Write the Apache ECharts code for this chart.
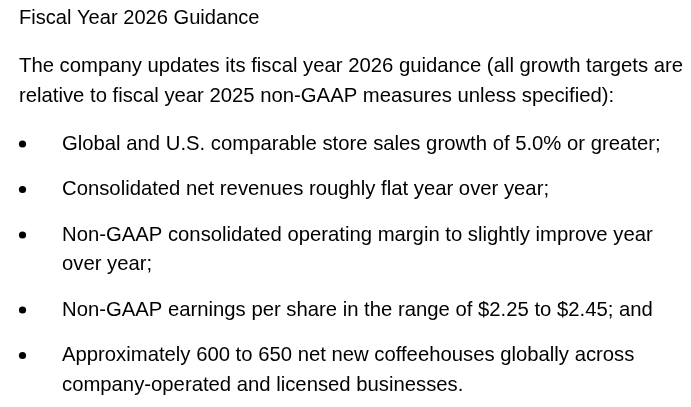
<!DOCTYPE html>
<html>
<head>
<meta charset="utf-8">
<title>Fiscal Year 2026 Guidance</title>
<script src="https://cdn.jsdelivr.net/npm/echarts@6.0.0/dist/echarts.min.js"></script>
<style>
  html, body { margin: 0; padding: 0; background: #fff; }
  #main { width: 691px; height: 407px; }
</style>
</head>
<body>
<div id="main"></div>
<script>
// text content, line by line as wrapped in the source
var titleText = 'Fiscal Year 2026 Guidance';
var introLines = [
  'The company updates its fiscal year 2026 guidance (all growth targets are',
  'relative to fiscal year 2025 non-GAAP measures unless specified):'
];
var bulletItems = [
  ['Global and U.S. comparable store sales growth of 5.0% or greater;'],
  ['Consolidated net revenues roughly flat year over year;'],
  ['Non-GAAP consolidated operating margin to slightly improve year', 'over year;'],
  ['Non-GAAP earnings per share in the range of $2.25 to $2.45; and'],
  ['Approximately 600 to 650 net new coffeehouses globally across', 'company-operated and licensed businesses.']
];

var myChart = echarts.init(document.getElementById('main'));

var titleFont = '20.1px "Liberation Sans", Arial, sans-serif';
var font = '20.3px "Liberation Sans", Arial, sans-serif';
var color = '#000';
var left = 19;
var textLeft = 62;
var dotX = 22.5;
var lineStep = 29.5;
var paraStep = 45.5;
var sectionStep = 48;
// baseline -> middle of em box
var mid = 6.5;

var elements = [];
function addText(str, x, baseline, f) {
  elements.push({
    type: 'text',
    x: x,
    y: baseline - mid,
    style: {
      text: str,
      font: f || font,
      fill: color,
      verticalAlign: 'middle',
      align: 'left'
    }
  });
}
function addDot(baseline) {
  elements.push({
    type: 'circle',
    shape: { cx: dotX, cy: baseline - 6.5, r: 3.6 },
    style: { fill: color }
  });
}

var y = 25;
addText(titleText, left, y, titleFont);
y += sectionStep;
introLines.forEach(function (line, i) {
  if (i > 0) y += lineStep;
  addText(line, left, y);
});
y += sectionStep;
bulletItems.forEach(function (item, k) {
  if (k > 0) y += paraStep;
  addDot(y);
  item.forEach(function (line, i) {
    if (i > 0) y += lineStep;
    addText(line, textLeft, y);
  });
});

myChart.setOption({
  backgroundColor: '#fff',
  animation: false,
  graphic: { elements: elements }
});
</script>
</body>
</html>
